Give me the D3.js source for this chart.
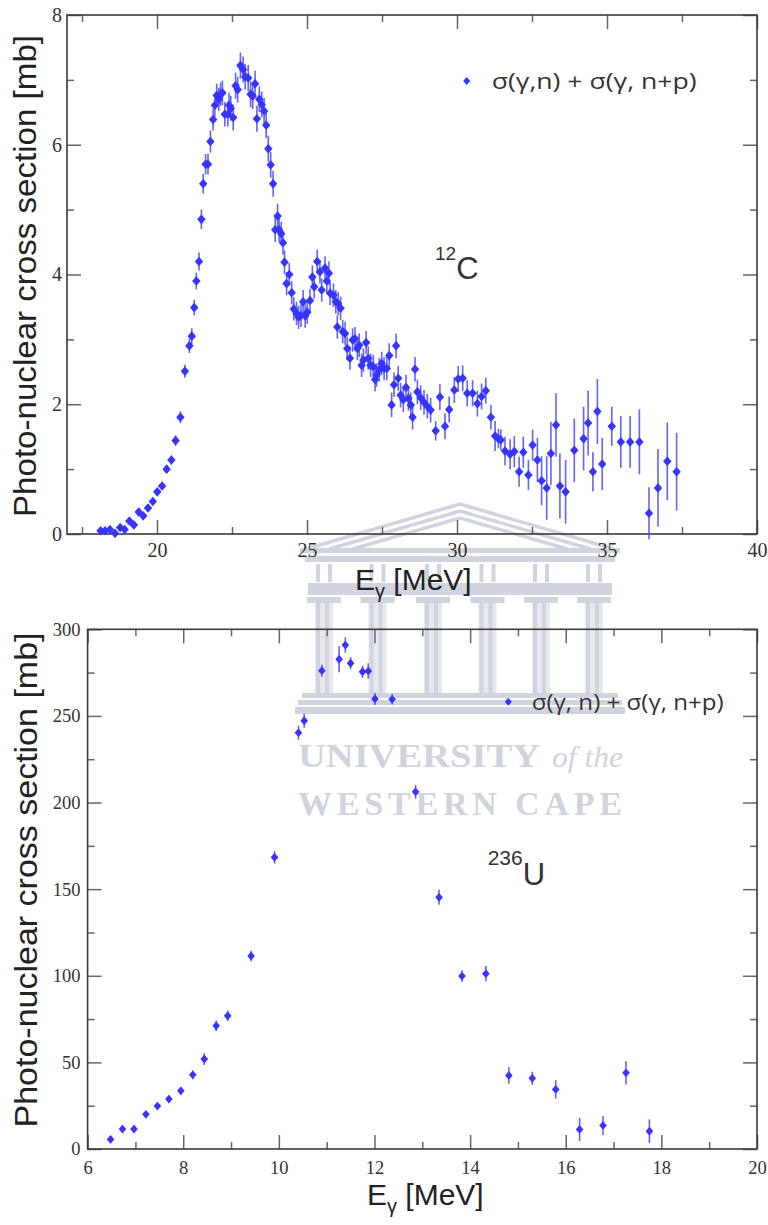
<!DOCTYPE html>
<html>
<head>
<meta charset="utf-8">
<script src="https://cdn.jsdelivr.net/npm/d3@7"></script>
<style>
  body { margin: 0; background: #fff; }
  svg { display: block; }
  .tick text { font-family: "Liberation Serif", "DejaVu Serif", serif; }
</style>
</head>
<body>
<div id="chart"></div>
<script>
"use strict";

// ---- data: 12C (top panel) ----
const carbonE = [18.12, 18.27, 18.43, 18.60, 18.77, 18.92, 19.08, 19.23, 19.39, 19.54,
    19.70, 19.86, 20.01, 20.17, 20.32, 20.48, 20.62, 20.78, 20.93, 21.08,
    21.16, 21.24, 21.31, 21.40, 21.48, 21.54, 21.62, 21.70, 21.78, 21.87,
    21.93, 21.99, 22.06, 22.12, 22.18, 22.26, 22.36, 22.40, 22.46, 22.54,
    22.62, 22.69, 22.78, 22.87, 22.94, 23.04, 23.12, 23.19, 23.27, 23.33,
    23.41, 23.49, 23.57, 23.64, 23.71, 23.79, 23.87, 23.94, 24.02, 24.07,
    24.14, 24.20, 24.25, 24.32, 24.41, 24.49, 24.56, 24.65, 24.72, 24.80,
    24.87, 24.94, 25.01, 25.10, 25.18, 25.24, 25.34, 25.43, 25.49, 25.60,
    25.66, 25.73, 25.77, 25.88, 25.96, 26.01, 26.04, 26.12, 26.19, 26.27,
    26.34, 26.43, 26.52, 26.60, 26.68, 26.74, 26.82, 26.88, 26.97, 27.04,
    27.12, 27.21, 27.27, 27.32, 27.41, 27.49, 27.57, 27.66, 27.74, 27.82,
    27.90, 27.97, 28.04, 28.12, 28.21, 28.30, 28.38, 28.46, 28.52, 28.60,
    28.68, 28.79, 28.90, 29.01, 29.12, 29.29, 29.43, 29.60, 29.74, 29.91,
    30.04, 30.19, 30.34, 30.52, 30.68, 30.82, 30.96, 31.13, 31.27, 31.38,
    31.46, 31.60, 31.77, 31.91, 32.07, 32.21, 32.38, 32.52, 32.68, 32.82,
    32.99, 33.13, 33.30, 33.43, 33.62, 33.91, 34.22, 34.37, 34.53, 34.68,
    34.84, 35.16, 35.46, 35.77, 36.08, 36.40, 36.70, 37.01, 37.32];
const carbonSigma = [0.05, 0.05, 0.07, 0.01, 0.10, 0.07, 0.20, 0.14, 0.34, 0.28,
    0.40, 0.50, 0.65, 0.74, 1.00, 1.14, 1.44, 1.80, 2.51, 2.90,
    3.05, 3.49, 3.90, 4.20, 4.85, 5.40, 5.70, 5.70, 6.05, 6.39,
    6.61, 6.76, 6.70, 6.78, 6.80, 6.47, 6.47, 6.61, 6.56, 6.42,
    6.91, 6.85, 7.22, 7.16, 7.05, 7.03, 6.78, 6.75, 6.94, 6.40,
    6.70, 6.62, 6.52, 6.30, 5.94, 5.69, 5.40, 4.69, 4.90, 4.69,
    4.63, 4.49, 4.19, 3.86, 4.00, 3.72, 3.47, 3.40, 3.34, 3.37,
    3.58, 3.36, 3.42, 3.60, 3.96, 3.81, 4.20, 4.04, 3.76, 4.10,
    3.90, 4.02, 3.71, 3.68, 3.58, 3.19, 3.55, 3.48, 3.12, 3.09,
    2.86, 2.71, 2.99, 3.01, 2.86, 2.91, 2.60, 2.68, 2.95, 2.71,
    2.60, 2.58, 2.38, 2.45, 2.53, 2.63, 2.55, 2.55, 2.75, 1.99,
    2.30, 2.90, 2.40, 2.14, 2.07, 2.26, 2.09, 1.99, 1.80, 2.54,
    2.19, 2.10, 2.03, 1.97, 1.91, 1.59, 2.11, 1.66, 1.92, 2.22,
    2.39, 2.40, 2.17, 2.17, 2.01, 2.12, 2.21, 1.80, 1.51, 1.47,
    1.45, 1.28, 1.23, 1.27, 0.96, 1.26, 0.91, 1.37, 1.14, 0.82,
    0.71, 1.24, 1.68, 0.74, 0.65, 1.29, 1.47, 1.71, 0.96, 1.89,
    1.08, 1.66, 1.42, 1.42, 1.42, 0.32, 0.71, 1.12, 0.96];
const carbonErr = [0.02, 0.02, 0.02, 0.02, 0.03, 0.03, 0.03, 0.03, 0.03, 0.03,
    0.04, 0.04, 0.05, 0.05, 0.06, 0.07, 0.08, 0.09, 0.10, 0.11,
    0.12, 0.12, 0.13, 0.14, 0.15, 0.15, 0.16, 0.16, 0.17, 0.17,
    0.18, 0.18, 0.18, 0.18, 0.19, 0.19, 0.19, 0.19, 0.19, 0.20,
    0.20, 0.20, 0.20, 0.20, 0.20, 0.20, 0.20, 0.20, 0.20, 0.20,
    0.20, 0.20, 0.20, 0.20, 0.20, 0.20, 0.20, 0.19, 0.19, 0.19,
    0.18, 0.18, 0.18, 0.18, 0.18, 0.18, 0.18, 0.18, 0.18, 0.18,
    0.18, 0.18, 0.18, 0.18, 0.18, 0.18, 0.18, 0.18, 0.18, 0.18,
    0.18, 0.18, 0.18, 0.18, 0.18, 0.18, 0.18, 0.18, 0.18, 0.18,
    0.18, 0.18, 0.18, 0.18, 0.18, 0.18, 0.18, 0.18, 0.18, 0.18,
    0.18, 0.18, 0.18, 0.18, 0.18, 0.18, 0.18, 0.18, 0.19, 0.19,
    0.19, 0.19, 0.19, 0.19, 0.19, 0.19, 0.19, 0.19, 0.19, 0.19,
    0.19, 0.19, 0.19, 0.19, 0.19, 0.15, 0.20, 0.20, 0.20, 0.20,
    0.20, 0.20, 0.20, 0.20, 0.20, 0.20, 0.20, 0.19, 0.23, 0.15,
    0.16, 0.22, 0.23, 0.24, 0.23, 0.24, 0.23, 0.24, 0.34, 0.38,
    0.49, 0.49, 0.49, 0.50, 0.49, 0.49, 0.49, 0.50, 0.30, 0.50,
    0.40, 0.30, 0.40, 0.40, 0.50, 0.40, 0.60, 0.60, 0.60];

// ---- data: 236U (bottom panel) ----
const uraniumE = [6.48, 6.73, 6.97, 7.22, 7.46, 7.70, 7.95, 8.20, 8.44, 8.69,
    8.93, 9.42, 9.91, 10.41, 10.53, 10.90, 11.26, 11.39, 11.50, 11.75,
    11.87, 12.01, 12.37, 12.86, 13.35, 13.83, 14.33, 14.81, 15.30, 15.79,
    16.29, 16.78, 17.26, 17.75];
const uraniumSigma = [5.5, 11.5, 11.5, 20.0, 24.8, 28.8, 33.6, 42.8, 51.9, 71.1,
    76.9, 111.4, 168.4, 240.3, 247.2, 276.1, 282.7, 290.9, 280.4, 275.5,
    275.9, 259.8, 259.6, 206.2, 145.3, 99.8, 101.2, 42.5, 40.8, 34.4,
    11.3, 13.6, 44.0, 10.3];
const uraniumErr = [2, 2, 2, 2, 2, 2, 2, 2.5, 3.4, 3,
    3, 3, 3.7, 4, 4, 3.5, 7.5, 4.4, 3.5, 3.5,
    4.5, 3.5, 3, 4, 4.3, 3.4, 4.4, 4.8, 3.8, 5.3,
    6.7, 5.5, 6.7, 6.8];

// ---- ticks and texts ----
const carbonXTicks = [20, 25, 30, 35, 40];
const carbonXMinor = [17.5, 22.5, 27.5, 32.5, 37.5];
const carbonYTicks = [0, 2, 4, 6, 8];
const carbonYMinor = [1, 3, 5, 7];
const uraniumXTicks = [6, 8, 10, 12, 14, 16, 18, 20];
const uraniumXMinor = [7, 9, 11, 13, 15, 17, 19];
const uraniumYTicks = [0, 50, 100, 150, 200, 250, 300];
const uraniumYMinor = [25, 75, 125, 175, 225, 275];
const yTitle = "Photo-nuclear cross section [mb]";
const carbonLegend = "σ(γ,n) + σ(γ, n+p)";
const uraniumLegend = "σ(γ, n) + σ(γ, n+p)";

const W = 768, H = 1225;
const BLUE = "#3535ff";
const SERIF = "'Liberation Serif', 'DejaVu Serif', serif";
const SANS = "'Liberation Sans', Arial, sans-serif";

let svg = d3.select("#chart")
    .append("svg")
    .attr("width", W)
    .attr("height", H);

// diamond marker path
let diamond = function (w, h) {
    return "M0," + (-h) + "L" + w + ",0L0," + h + "L" + (-w) + ",0Z";
};

// ---- watermark (faint logo behind the plots) ----
const WM = "#d0d4de";
let wm = svg.append("g").attr("class", "watermark").attr("fill", WM);
let ped = wm.append("g").attr("fill", "none").attr("stroke", WM).attr("stroke-width", 3.5);
[0, 1, 2].forEach(function (k) {
    let d = k * 7;
    ped.append("polyline")
        .attr("points", [[306 + d / 0.3, 549], [460, 504 + d], [614 - d / 0.3, 549]].map(p => p.join(",")).join(" "));
});
wm.append("rect").attr("x", 300).attr("y", 548).attr("width", 320).attr("height", 5);
wm.append("rect").attr("x", 305).attr("y", 556).attr("width", 310).attr("height", 6);
wm.append("rect").attr("x", 308).attr("y", 583).attr("width", 304).attr("height", 12);
let colCentres = [324, 377.5, 433, 487.5, 541, 594];
colCentres.forEach(function (c) {
    // attic posts
    wm.append("rect").attr("x", c - 8).attr("y", 564).attr("width", 4).attr("height", 18);
    wm.append("rect").attr("x", c + 4).attr("y", 564).attr("width", 4).attr("height", 18);
    // capital
    wm.append("rect").attr("x", c - 17).attr("y", 597).attr("width", 34).attr("height", 6);
    // shaft
    wm.append("rect").attr("x", c - 9).attr("y", 603).attr("width", 18).attr("height", 90).attr("fill", "#e6e8ee");
    wm.append("rect").attr("x", c - 8).attr("y", 603).attr("width", 4).attr("height", 90);
    wm.append("rect").attr("x", c + 1).attr("y", 603).attr("width", 4).attr("height", 90);
});
wm.append("rect").attr("x", 302).attr("y", 693).attr("width", 316).attr("height", 5);
wm.append("rect").attr("x", 298).attr("y", 700).attr("width", 324).attr("height", 5);
wm.append("rect").attr("x", 295).attr("y", 707).attr("width", 330).attr("height", 7);
wm.append("text")
    .attr("x", 298).attr("y", 767)
    .style("font-family", SERIF).attr("font-weight", "bold").attr("font-size", 34)
    .attr("textLength", 242).attr("lengthAdjust", "spacingAndGlyphs")
    .text("UNIVERSITY");
wm.append("text")
    .attr("x", 552).attr("y", 767)
    .style("font-family", SERIF).attr("font-style", "italic").attr("font-size", 30)
    .attr("textLength", 71).attr("lengthAdjust", "spacingAndGlyphs")
    .text("of the");
wm.append("text")
    .attr("x", 298).attr("y", 815)
    .style("font-family", SERIF).attr("font-weight", "bold").attr("font-size", 34)
    .attr("textLength", 324).attr("lengthAdjust", "spacing")
    .text("WESTERN CAPE");

// ---- one panel ----
let drawPanel = function (p) {
    let x = d3.scaleLinear().domain(p.xDomain).range([p.left, p.right]);
    let y = d3.scaleLinear().domain(p.yDomain).range([p.bottom, p.top]);
    let g = svg.append("g").attr("class", "panel");

    let axisStyle = function (sel, fontSize) {
        sel.attr("font-family", null);
        sel.select(".domain").remove();
        sel.selectAll("line").attr("stroke", "#666").attr("stroke-width", 1.5);
        sel.selectAll("text")
            .attr("fill", "#333")
            .style("font-family", SERIF)
            .style("font-size", fontSize + "px");
    };

    // major + minor ticks on all four sides, pointing inward
    let sides = [
        {axis: d3.axisBottom(x), t: "translate(0," + p.bottom + ")", vals: p.xTicks, minor: p.xMinor, label: true},
        {axis: d3.axisTop(x), t: "translate(0," + p.top + ")", vals: p.xTicks, minor: p.xMinor, label: false},
        {axis: d3.axisLeft(y), t: "translate(" + p.left + ",0)", vals: p.yTicks, minor: p.yMinor, label: true},
        {axis: d3.axisRight(y), t: "translate(" + p.right + ",0)", vals: p.yTicks, minor: p.yMinor, label: false}
    ];
    sides.forEach(function (s, i) {
        let major = s.axis.tickValues(s.vals).tickSize(-14)
            .tickPadding(i === 0 ? p.xPad : p.yPad)
            .tickFormat(s.label ? d3.format("d") : "");
        g.append("g").attr("transform", s.t).call(major).call(axisStyle, p.tickFont);
        let axMinor = [d3.axisBottom, d3.axisTop, d3.axisLeft, d3.axisRight][i](i < 2 ? x : y)
            .tickValues(s.minor).tickSize(-7).tickFormat("");
        g.append("g").attr("transform", s.t).call(axMinor).call(axisStyle, p.tickFont);
    });

    // frame
    g.append("rect")
        .attr("x", p.left).attr("y", p.top)
        .attr("width", p.right - p.left).attr("height", p.bottom - p.top)
        .attr("fill", "none").attr("stroke", "#3a3a3a").attr("stroke-width", 1.6);

    // error bars
    let pts = p.xs.map((v, i) => ({e: v, s: p.ys[i], err: p.errs[i]}));
    g.append("g").attr("class", "errors")
        .selectAll("line").data(pts).enter().append("line")
        .attr("x1", d => x(d.e)).attr("x2", d => x(d.e))
        .attr("y1", d => y(d.s - d.err)).attr("y2", d => y(d.s + d.err))
        .attr("stroke", "#4646ff").attr("stroke-opacity", 0.85).attr("stroke-width", 1.6);

    // markers
    g.append("g").attr("class", "points")
        .selectAll("path").data(pts).enter().append("path")
        .attr("transform", d => "translate(" + x(d.e) + "," + y(d.s) + ")")
        .attr("d", diamond(p.mw, p.mh))
        .attr("fill", BLUE);

    // legend
    g.append("path")
        .attr("transform", "translate(" + p.legend.x + "," + p.legend.y + ")")
        .attr("d", diamond(3.5, 4))
        .attr("fill", BLUE);
    g.append("text")
        .attr("x", p.legend.tx).attr("y", p.legend.ty)
        .style("font-family", "'Open Sans', 'DejaVu Sans', sans-serif")
        .attr("font-size", p.legend.size)
        .attr("fill", "#333")
        .attr("textLength", p.legend.len).attr("lengthAdjust", "spacingAndGlyphs")
        .text(p.legend.text);

    // nucleus label
    let nl = g.append("text")
        .attr("x", p.nucleus.x).attr("y", p.nucleus.y)
        .style("font-family", SANS)
        .attr("fill", "#333");
    nl.append("tspan").attr("font-size", p.nucleus.supSize).attr("dy", -p.nucleus.rise).text(p.nucleus.mass);
    nl.append("tspan").attr("font-size", 31).attr("dy", p.nucleus.rise).text(p.nucleus.symbol);

    // x title
    let xt = g.append("text")
        .attr("x", p.xTitle.x).attr("y", p.xTitle.y)
        .style("font-family", SANS)
        .attr("font-size", 30)
        .attr("fill", "#222");
    xt.append("tspan").text("E");
    xt.append("tspan").attr("font-size", 20).attr("dy", 8).text("γ");
    xt.append("tspan").attr("dy", -8).text(" [MeV]");

    // y title
    g.append("text")
        .attr("transform", "translate(" + p.yTitle.x + "," + p.yTitle.y + ") rotate(-90)")
        .attr("text-anchor", "middle")
        .style("font-family", SANS)
        .attr("font-size", 31)
        .attr("fill", "#222")
        .attr("textLength", p.yTitle.len).attr("lengthAdjust", "spacingAndGlyphs")
        .text(yTitle);
};

// top: 12C
drawPanel({
    xs: carbonE, ys: carbonSigma, errs: carbonErr,
    xDomain: [17, 40], yDomain: [0, 8],
    left: 67, right: 757, top: 15, bottom: 534,
    xTicks: carbonXTicks, xMinor: carbonXMinor, yTicks: carbonYTicks, yMinor: carbonYMinor,
    tickFont: 20, xPad: 8.5, yPad: 5,
    mw: 4.2, mh: 4.8,
    legend: {x: 466.7, y: 81, tx: 491.7, ty: 89, size: 22, len: 205, text: carbonLegend},
    nucleus: {x: 435, y: 279, mass: "12", symbol: "C", supSize: 19, rise: 19},
    xTitle: {x: 355, y: 590},
    yTitle: {x: 36, y: 276, len: 482}
});

// bottom: 236U
drawPanel({
    xs: uraniumE, ys: uraniumSigma, errs: uraniumErr,
    xDomain: [6, 20], yDomain: [0, 300],
    left: 87.6, right: 757, top: 629.3, bottom: 1149,
    xTicks: uraniumXTicks, xMinor: uraniumXMinor, yTicks: uraniumYTicks, yMinor: uraniumYMinor,
    tickFont: 18.5, xPad: 11.5, yPad: 7,
    mw: 3.8, mh: 4.4,
    legend: {x: 508.3, y: 701.7, tx: 531.7, ty: 710, size: 21, len: 192, text: uraniumLegend},
    nucleus: {x: 487.7, y: 885, mass: "236", symbol: "U", supSize: 21, rise: 20},
    xTitle: {x: 367, y: 1205},
    yTitle: {x: 37, y: 880, len: 495}
});
</script>
</body>
</html>
